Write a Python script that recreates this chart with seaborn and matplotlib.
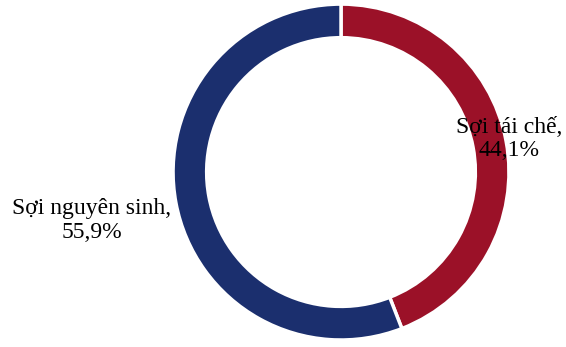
import matplotlib
matplotlib.use("Agg")
import matplotlib.pyplot as plt
import seaborn as sns

categories = ["Sợi tái chế", "Sợi nguyên sinh"]
values = [44.1, 55.9]
value_labels = ["44,1%", "55,9%"]
colors = ["#9B1128", "#1B2F6E"]

sns.set_theme(style="white")
plt.rcParams['font.family'] = ['Liberation Serif', 'DejaVu Serif']

fig = plt.figure(figsize=(5.66, 3.47), dpi=100)
ax = fig.add_axes([0.3057, 0.0202, 0.5936, 0.968])
wedges, _ = ax.pie(values, colors=colors, startangle=90, counterclock=False,
                   radius=1.0,
                   wedgeprops=dict(width=0.2, edgecolor="white", linewidth=2.5))
ax.set_xlim(-1, 1)
ax.set_ylim(-1, 1)
ax.set_aspect("equal")
ax.axis("off")

label_pos = [(1.003, 0.196), (-1.485, -0.289)]
for cat, lab, (x, y) in zip(categories, value_labels, label_pos):
    ax.text(x, y, f"{cat},\n{lab}", ha="center", va="center", fontsize=17,
            color="black", clip_on=False, linespacing=1.15)

fig.savefig("out.png", dpi=100)
